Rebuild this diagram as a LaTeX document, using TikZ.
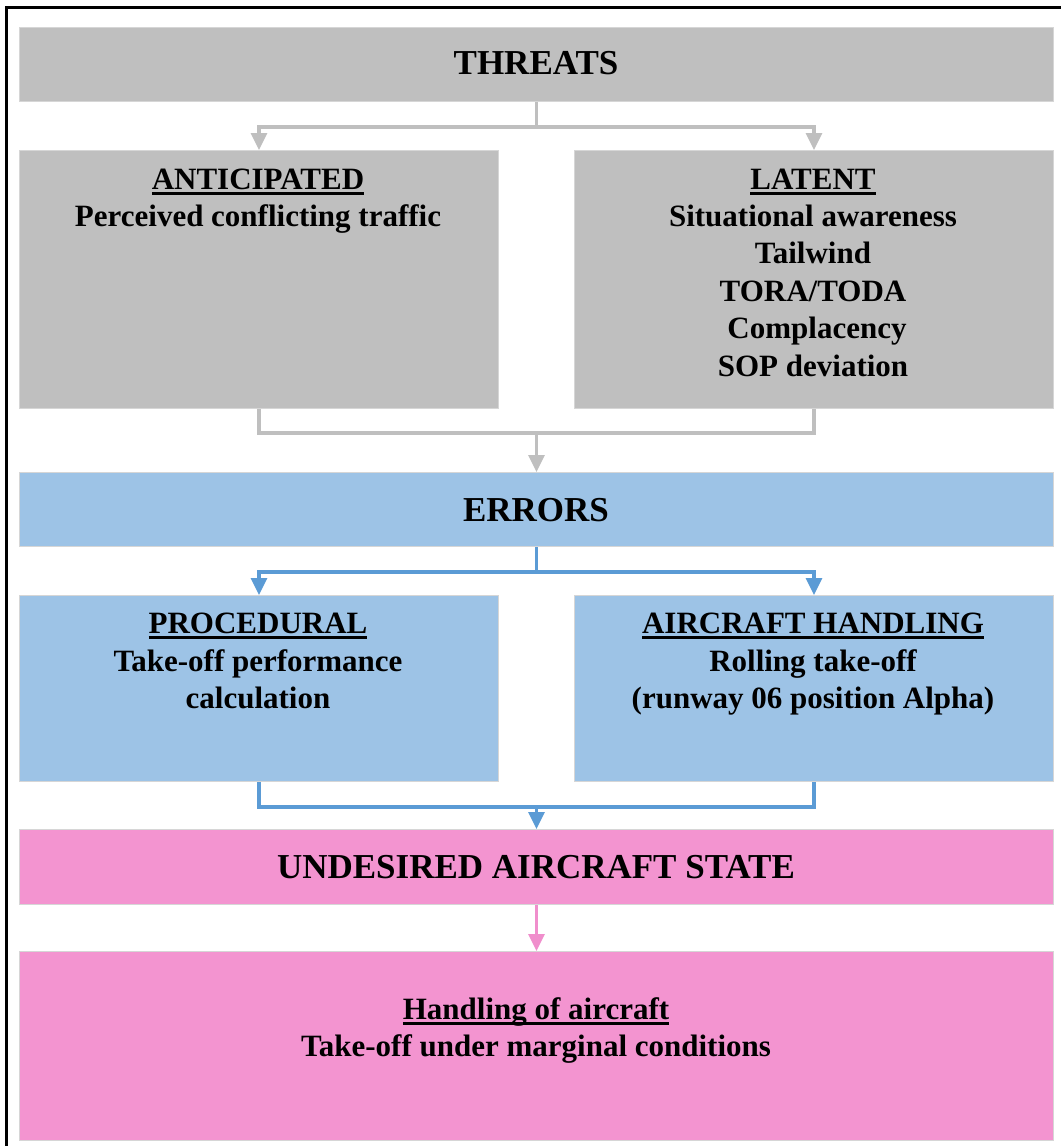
\documentclass[tikz,border=0pt]{standalone}
\usepackage{fontspec}
\setmainfont{Liberation Serif}
\usetikzlibrary{arrows.meta}
\definecolor{gfill}{HTML}{BFBFBF}
\definecolor{bfill}{HTML}{9DC3E6}
\definecolor{pfill}{HTML}{F394D0}
\definecolor{bline}{HTML}{5B9BD5}
\definecolor{gline}{HTML}{BFBFBF}
\definecolor{pline}{HTML}{F08ECC}
\definecolor{edge}{HTML}{D6D6D6}
\newcommand{\headul}[1]{\setbox0\hbox{#1}\leavevmode\rlap{\rule[-6pt]{\wd0}{3.5pt}}\box0}
\begin{document}
\begin{tikzpicture}[x=1pt,y=-1pt,
 panel/.style={draw=edge, line width=1pt, inner sep=0pt, anchor=north west},
 ttl/.style={font=\fontsize{35}{42}\selectfont\bfseries, inner sep=0pt, anchor=base},
 txt/.style={font=\fontsize{31}{37.5}\selectfont\bfseries, inner sep=0pt, anchor=base},
 conn/.style={line width=3.2pt},
 tip/.style={-{Triangle[width=16pt,length=17pt]}}]
\path[use as bounding box] (0,0) rectangle (1061,1146);
\fill[white] (0,0) rectangle (1061,1146);
\draw[line width=3pt] (6,1146) -- (6,7) -- (1061,7);
% panels
\node[panel, fill=gfill, minimum width=1034pt, minimum height=74pt] (threats) at (19,27) {};
\node[panel, fill=gfill, minimum width=479pt, minimum height=258pt] (ant) at (19,150) {};
\node[panel, fill=gfill, minimum width=479pt, minimum height=258pt] (lat) at (574,150) {};
\node[panel, fill=bfill, minimum width=1034pt, minimum height=74pt] (errors) at (19,472) {};
\node[panel, fill=bfill, minimum width=479pt, minimum height=186pt] (proc) at (19,595) {};
\node[panel, fill=bfill, minimum width=479pt, minimum height=186pt] (hand) at (574,595) {};
\node[panel, fill=pfill, minimum width=1034pt, minimum height=75pt] (uas) at (19,829) {};
\node[panel, fill=pfill, minimum width=1034pt, minimum height=189pt] (cond) at (19,951) {};
% texts
\node[ttl] (t1) at (536,74) {THREATS};
\node[txt] (a1) at (258,189) {\headul{ANTICIPATED}};
\node[txt] (a2) at (258,226) {Perceived conflicting traffic};
\node[txt] (l1) at (813,189) {\headul{LATENT}};
\node[txt] (l2) at (813,226) {Situational awareness};
\node[txt] (l3) at (813,263) {Tailwind};
\node[txt] (l4) at (813,301) {TORA/TODA};
\node[txt] (l5) at (817,338) {Complacency};
\node[txt] (l6) at (813,376) {SOP deviation};
\node[ttl] (t2) at (536,521) {ERRORS};
\node[txt] (p1) at (258,633) {\headul{PROCEDURAL}};
\node[txt] (p2) at (258,671) {Take-off performance};
\node[txt] (p3) at (258,708) {calculation};
\node[txt] (h1) at (813,633) {\headul{AIRCRAFT HANDLING}};
\node[txt] (h2) at (813,671) {Rolling take-off};
\node[txt] (h3) at (813,708) {(runway 06 position Alpha)};
\node[ttl] (t3) at (536,878) {UNDESIRED AIRCRAFT STATE};
\node[txt] (c1) at (536,1019) {\headul{Handling of aircraft}};
\node[txt] (c2) at (536,1056) {Take-off under marginal conditions};
% connectors
\draw[conn, gline, tip] (threats.south) -- ++(0,25) -| (ant.north);
\draw[conn, gline, tip] (threats.south) -- ++(0,25) -| (lat.north);
\draw[conn, gline] (ant.south) -- ++(0,24) coordinate (mg1a) -| (lat.south);
\coordinate (mg1) at (errors.north |- mg1a);
\draw[conn, gline, tip] (mg1) -- (errors.north);
\draw[conn, bline, tip] (errors.south) -- ++(0,25) -| (proc.north);
\draw[conn, bline, tip] (errors.south) -- ++(0,25) -| (hand.north);
\draw[conn, bline] (proc.south) -- ++(0,25) coordinate (mg2a) -| (hand.south);
\coordinate (mg2) at (uas.north |- mg2a);
\draw[conn, bline, tip] (mg2) -- (uas.north);
\draw[conn, pline, tip] (uas.south) -- (cond.north);
\end{tikzpicture}
\end{document}
